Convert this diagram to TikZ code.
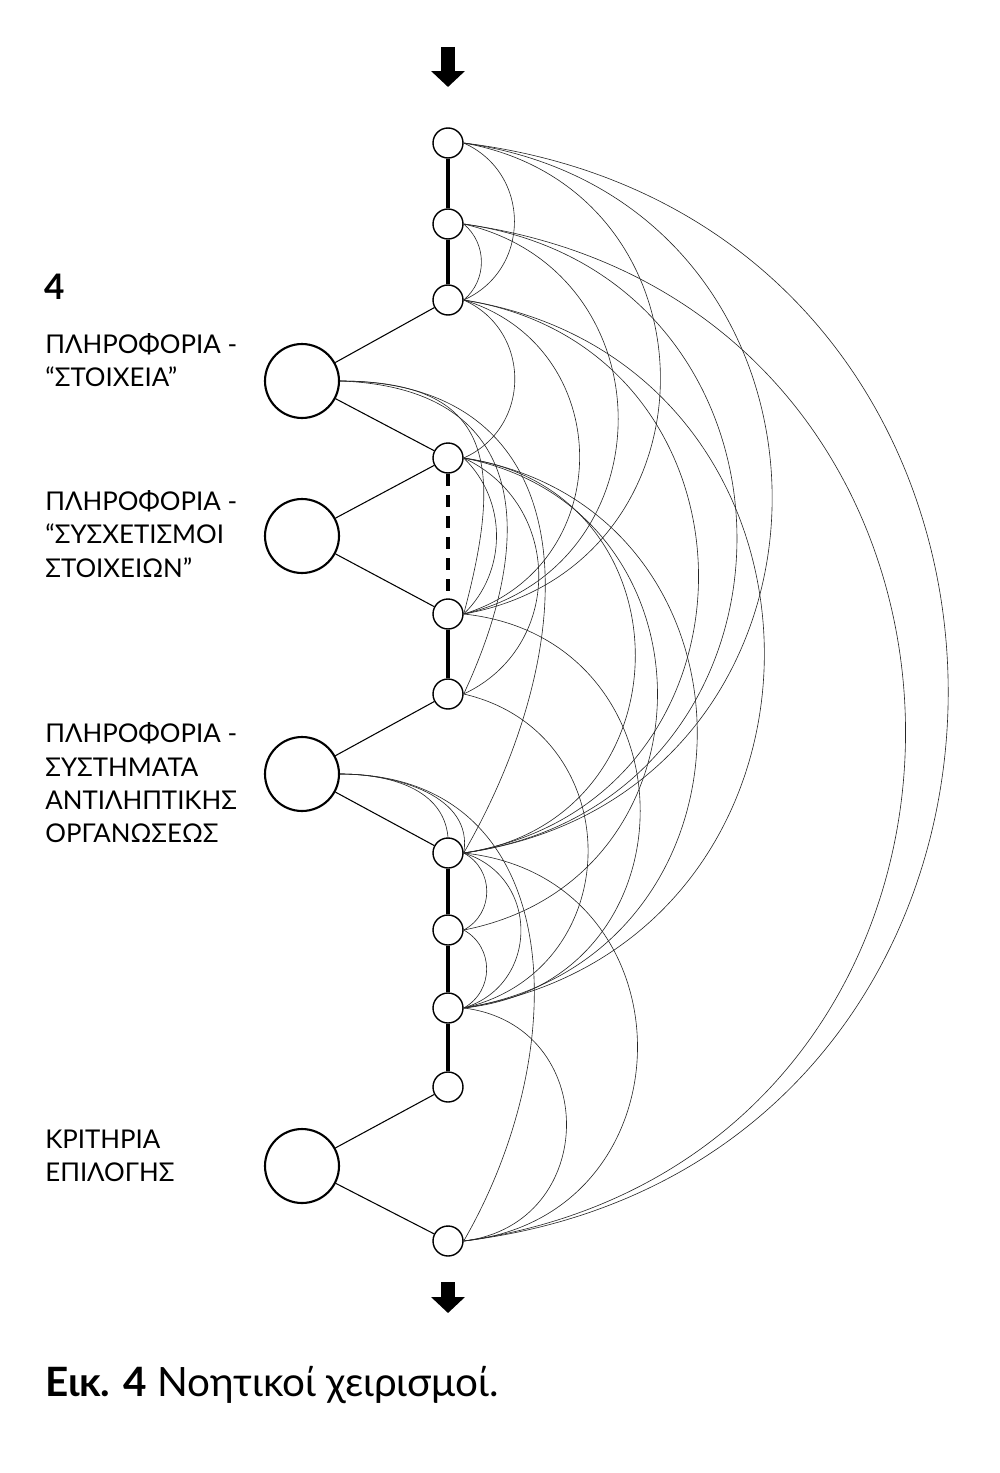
\documentclass[tikz,border=0pt]{standalone}
\usepackage{fontspec}
\setmainfont{Lato}
\usetikzlibrary{positioning, arrows.meta}

\begin{document}
\begin{tikzpicture}[
    x=0.02cm, y=-0.02cm,
    dot/.style={draw, circle, fill=white, line width=0.8pt, minimum size=0.6cm, inner sep=0pt},
    bigdot/.style={draw, circle, fill=white, line width=1.2pt, minimum size=1.48cm, inner sep=0pt},
    caps/.style={anchor=west, align=left, inner sep=0pt, font=\fontsize{14.7}{19}\selectfont},
    spine/.style={line width=2.6pt},
    link/.style={line width=0.6pt},
    arc/.style={line width=0.35pt, black!85},
    block/.style={line width=0.28cm, -{Triangle[length=0.32cm, width=0.66cm]}},
    >=Stealth
]
\useasboundingbox (0,0) rectangle (1000,1473);

% spine
\node[dot] (s1) at (448,143) {};
\node[dot] (s2) at (448,224) {};
\node[dot] (s3) at (448,300) {};
\node[dot] (s4) at (448,458) {};
\node[dot] (s5) at (448,614) {};
\node[dot] (s6) at (448,694) {};
\node[dot] (s7) at (448,853) {};
\node[dot] (s8) at (448,930) {};
\node[dot] (s9) at (448,1008) {};
\node[dot] (s10) at (448,1087) {};
\node[dot] (s11) at (448,1241) {};

\node[bigdot] (b1) at (302,381) {};
\node[bigdot] (b2) at (302,536) {};
\node[bigdot] (b3) at (302,774) {};
\node[bigdot] (b4) at (302,1166) {};

\node[caps] (txt1) at (45,360) {ΠΛΗΡΟΦΟΡΙΑ -\\“ΣΤΟΙΧΕΙΑ”};
\node[caps] (txt2) at (45,534) {ΠΛΗΡΟΦΟΡΙΑ -\\“ΣΥΣΧΕΤΙΣΜΟΙ\\ΣΤΟΙΧΕΙΩΝ”};
\node[caps] (txt3) at (45,783) {ΠΛΗΡΟΦΟΡΙΑ -\\ΣΥΣΤΗΜΑΤΑ\\ΑΝΤΙΛΗΠΤΙΚΗΣ\\ΟΡΓΑΝΩΣΕΩΣ};
\node[caps] (txt4) at (45,1156) {ΚΡΙΤΗΡΙΑ\\ΕΠΙΛΟΓΗΣ};
\node[anchor=west, inner sep=0pt, font=\fontsize{20}{22}\selectfont\bfseries] (num) at (44,287) {4};
\node[anchor=base west, inner sep=0pt, font=\fontsize{23}{26}\selectfont] (cap) at (45,1396) {\textbf{Εικ. 4} Νοητικοί χειρισμοί.};

% in / out
\coordinate (in0) at (448,47);
\coordinate (in1) at (448,87);
\coordinate (out0) at (448,1282);
\coordinate (out1) at (448,1313);
\draw[block] (in0) -- (in1);
\draw[block] (out0) -- (out1);

\draw[spine] (s1) -- (s2);
\draw[spine] (s2) -- (s3);
\draw[spine, dash pattern=on 7pt off 5pt] (s4) -- (s5);
\draw[spine] (s5) -- (s6);
\draw[spine] (s7) -- (s8);
\draw[spine] (s8) -- (s9);
\draw[spine] (s9) -- (s10);

\draw[link] (b1) -- (s3);
\draw[link] (b1) -- (s4);
\draw[link] (b2) -- (s4);
\draw[link] (b2) -- (s5);
\draw[link] (b3) -- (s6);
\draw[link] (b3) -- (s7);
\draw[link] (b4) -- (s10);
\draw[link] (b4) -- (s11);

% arcs (looseness keeps them circular)
\draw[arc] (s1.east) to[bend left=66, looseness=1.21] (s3.east);
\draw[arc] (s2.east) to[bend left=50, looseness=1.04] (s3.east);
\draw[arc] (s3.east) to[bend left=66, looseness=1.21] (s4.east);
\draw[arc] (s1.east) to[bend left=80, looseness=1.45] (s5.east);
\draw[arc] (s2.east) to[bend left=77, looseness=1.39] (s5.east);
\draw[arc] (s3.east) to[bend left=73, looseness=1.32] (s5.east);
\draw[arc] (s1.east) to[bend left=82, looseness=1.5] (s7.east);
\draw[arc] (s2.east) to[bend left=82, looseness=1.5] (s7.east);
\draw[arc] (s3.east) to[bend left=81, looseness=1.47] (s7.east);
\draw[arc] (s3.east) to[bend left=81, looseness=1.47] (s9.east);
\draw[arc] (s1.east) to[bend left=83, looseness=1.52] (s11.east);
\draw[arc] (s2.east) to[bend left=82, looseness=1.5] (s11.east);
\draw[arc] (s4.east) to[bend left=46, looseness=1.0] (s5.east);
\draw[arc] (s4.east) to[bend left=65, looseness=1.2] (s6.east);
\draw[arc] (s4.east) to[bend left=82, looseness=1.5] (s7.east);
\draw[arc] (s4.east) to[bend left=79, looseness=1.43] (s8.east);
\draw[arc] (s4.east) to[bend left=81, looseness=1.47] (s9.east);
\draw[arc] (s5.east) to[bend left=84, looseness=1.54] (s9.east);
\draw[arc] (s6.east) to[bend left=77, looseness=1.39] (s9.east);
\draw[arc] (s7.east) to[bend left=62, looseness=1.16] (s8.east);
\draw[arc] (s8.east) to[bend left=61, looseness=1.15] (s9.east);
\draw[arc] (s7.east) to[bend left=73, looseness=1.32] (s9.east);
\draw[arc] (s7.east) to[bend left=84, looseness=1.54] (s11.east);
\draw[arc] (s9.east) to[bend left=83, looseness=1.52] (s11.east);
\draw[arc] (b1.east) to[out=0, in=75, looseness=1.5] (s5.east);
\draw[arc] (b1.east) to[out=-2, in=65, looseness=1.4] (s6.east);
\draw[arc] (b1.east) to[out=0, in=60, looseness=1.3] (s7.east);
\draw[arc] (b3.east) to[out=0, in=95] (s7.north);
\draw[arc] (b3.east) to[out=0, in=80] (s7.east);
\draw[arc] (b3.east) to[out=0, in=60, looseness=1.2] (s11.east);
\end{tikzpicture}
\end{document}
